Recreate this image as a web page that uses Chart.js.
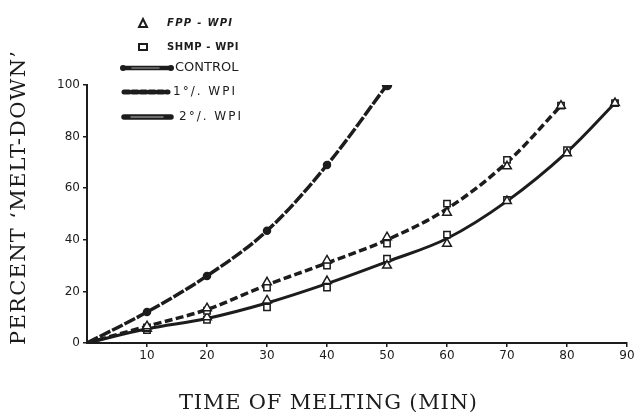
<!DOCTYPE html>
<html><head><meta charset="utf-8">
<script src="https://cdn.jsdelivr.net/npm/chart.js@4/dist/chart.umd.min.js"></script>
<style>html,body{margin:0;padding:0;background:#fff}#wrap{width:637px;height:414px;position:relative}</style>
</head><body><div id="wrap"><canvas id="c" width="637" height="414"></canvas></div>
<script>
// ---- data ----
const controlTime = [0, 10, 20, 30, 40, 50];
const controlMelt = [0, 12, 26, 43.5, 69, 100];

const wpi1Time = [0, 10, 20, 30, 40, 50, 60, 70, 79];
const wpi1Melt = [0, 6.5, 13, 22.5, 31, 40, 52, 70, 92];
const wpi1MarkTime = [10, 20, 30, 40, 50, 60, 70, 79];
const fpp1Melt  = [6.5, 13.5, 23.5, 32, 41, 50.5, 68.5, 92];
const shmp1Melt = [6, 12.5, 21.5, 30, 38.5, 54, 71, 92];

const wpi2Time = [0, 10, 20, 30, 40, 50, 60, 70, 80, 88];
const wpi2Melt = [0, 5.5, 9.5, 15.5, 23, 31.5, 40.5, 55, 74, 93];
const wpi2MarkTime = [10, 20, 30, 40, 50, 60, 70, 80, 88];
const fpp2Melt  = [5.5, 10, 16.5, 24, 30, 38.5, 55, 73.5, 93];
const shmp2Melt = [5, 9, 13.8, 21.5, 32.7, 42, 55.5, 74.7, 93];

const xTicks = [10, 20, 30, 40, 50, 60, 70, 80, 90];
const yTicks = [0, 20, 40, 60, 80, 100];
const xTitle = 'TIME OF MELTING (MIN)';
const yTitle = 'PERCENT ‘MELT-DOWN’';

const INK = '#1c1c1c';
const pts = (t, v) => t.map((x, i) => ({x: x, y: v[i]}));

function markerSet(label, t, v, style, r) {
  return {label, data: pts(t, v), showLine: false, pointStyle: style, pointRadius: r,
    pointBackgroundColor: '#fff', pointBorderColor: INK, pointBorderWidth: 1.5, order: 0};
}

function spacedText(ctx, text, x, y, targetW) {
  try { ctx.letterSpacing = '0px'; } catch (e) {}
  const w = ctx.measureText(text).width;
  const sp = Math.max(0, (targetW - w) / (text.length - 1));
  try { ctx.letterSpacing = sp + 'px'; } catch (e) {}
  ctx.textAlign = 'center';
  ctx.fillText(text, x + sp / 2, y);
  try { ctx.letterSpacing = '0px'; } catch (e) {}
}

const paperPlugin = {
  id: 'paperLegend',
  afterDraw(chart) {
    const ctx = chart.ctx, a = chart.chartArea;
    const L = a.left, T = a.top;
    ctx.save();
    ctx.fillStyle = INK; ctx.strokeStyle = INK;
    ctx.textBaseline = 'middle';
    // axis titles
    ctx.font = '21px "DejaVu Serif"';
    spacedText(ctx, xTitle, 328, 404, 298);
    ctx.save();
    ctx.translate(20, 198);
    ctx.rotate(-Math.PI / 2);
    spacedText(ctx, yTitle, 0, 0, 294);
    ctx.restore();
    ctx.textAlign = 'left';
    // FPP-WPI
    let y = T - 62;
    ctx.lineWidth = 2;
    ctx.beginPath(); ctx.moveTo(L + 56, y - 4); ctx.lineTo(L + 60, y + 4); ctx.lineTo(L + 52, y + 4); ctx.closePath(); ctx.stroke();
    ctx.font = 'bold italic 10px "DejaVu Sans"';
    try { ctx.letterSpacing = '1.3px'; } catch (e) {}
    ctx.fillText('FPP - WPI', L + 80, y);
    // SHMP-WPI
    y = T - 38;
    ctx.strokeRect(L + 52, y - 3, 8, 6);
    ctx.font = 'bold 10px "DejaVu Sans"';
    try { ctx.letterSpacing = '0.6px'; } catch (e) {}
    ctx.fillText('SHMP - WPI', L + 80, y);
    try { ctx.letterSpacing = '0px'; } catch (e) {}
    // CONTROL
    y = T - 17;
    ctx.lineWidth = 4.5; ctx.lineCap = 'round';
    ctx.beginPath(); ctx.moveTo(L + 36, y); ctx.lineTo(L + 84, y); ctx.stroke();
    ctx.strokeStyle = '#777'; ctx.lineWidth = 1.5;
    ctx.beginPath(); ctx.moveTo(L + 45, y); ctx.lineTo(L + 72, y); ctx.stroke();
    ctx.strokeStyle = INK;
    ctx.beginPath(); ctx.arc(L + 36, y, 3, 0, Math.PI * 2); ctx.arc(L + 84, y, 3, 0, Math.PI * 2); ctx.fill();
    ctx.font = '13px "DejaVu Sans"';
    ctx.fillText('CONTROL', L + 88, y);
    // 1% WPI
    y = T + 7;
    ctx.lineWidth = 5;
    ctx.setLineDash([5, 3.5]);
    ctx.beginPath(); ctx.moveTo(L + 37, y); ctx.lineTo(L + 81, y); ctx.stroke();
    ctx.setLineDash([]);
    ctx.font = '12px "DejaVu Sans"';
    try { ctx.letterSpacing = '2px'; } catch (e) {}
    ctx.fillText('1°/. WPI', L + 86, y);
    // 2% WPI
    y = T + 32;
    ctx.lineWidth = 5.5;
    ctx.beginPath(); ctx.moveTo(L + 37, y); ctx.lineTo(L + 84, y); ctx.stroke();
    ctx.strokeStyle = '#888'; ctx.lineWidth = 1.5;
    ctx.beginPath(); ctx.moveTo(L + 44, y); ctx.lineTo(L + 76, y); ctx.stroke();
    ctx.fillText('2°/. WPI', L + 92, y);
    ctx.restore();
  }
};

new Chart(document.getElementById('c'), {
  type: 'line',
  data: {
    datasets: [
      markerSet('FPP-WPI 1%', wpi1MarkTime, fpp1Melt, 'triangle', 5),
      markerSet('SHMP-WPI 1%', wpi1MarkTime, shmp1Melt, 'rect', 4.5),
      markerSet('FPP-WPI 2%', wpi2MarkTime, fpp2Melt, 'triangle', 5),
      markerSet('SHMP-WPI 2%', wpi2MarkTime, shmp2Melt, 'rect', 4.5),
      {label: 'CONTROL', data: pts(controlTime, controlMelt), borderColor: INK, borderWidth: 3.5,
        borderDash: [12, 2], tension: 0.35, pointRadius: [0, 2.5, 2.5, 2.5, 2.5, 3.5],
        pointBackgroundColor: INK, pointBorderColor: INK, order: 1},
      {label: '1% WPI', data: pts(wpi1Time, wpi1Melt), borderColor: INK, borderWidth: 3.5,
        borderDash: [8, 3.5], tension: 0.35, pointRadius: 0, order: 1},
      {label: '2% WPI', data: pts(wpi2Time, wpi2Melt), borderColor: INK, borderWidth: 3,
        tension: 0.35, pointRadius: 0, order: 1}
    ]
  },
  options: {
    responsive: false, animation: false,
    layout: {padding: {top: 85, right: 10, left: 0, bottom: 0}},
    plugins: {legend: {display: false}, tooltip: {enabled: false}},
    scales: {
      x: {
        type: 'linear', min: 0, max: 90,
        afterFit: s => { s.height = 71; },
        afterBuildTicks: s => { s.ticks = xTicks.map(v => ({value: v})); },
        ticks: {color: INK, font: {family: 'DejaVu Sans', size: 12}, padding: 2, maxRotation: 0},
        grid: {drawOnChartArea: false, color: INK, tickLength: 4, lineWidth: 1.5},
        border: {color: INK, width: 2}
      },
      y: {
        min: 0, max: 100,
        afterFit: s => { s.width = 87; },
        afterBuildTicks: s => { s.ticks = yTicks.map(v => ({value: v})); },
        ticks: {color: INK, font: {family: 'DejaVu Sans', size: 12}, padding: 3},
        grid: {drawOnChartArea: false, color: INK, tickLength: 4, lineWidth: 1.5},
        border: {color: INK, width: 2}
      }
    }
  },
  plugins: [paperPlugin]
});
</script></body></html>
